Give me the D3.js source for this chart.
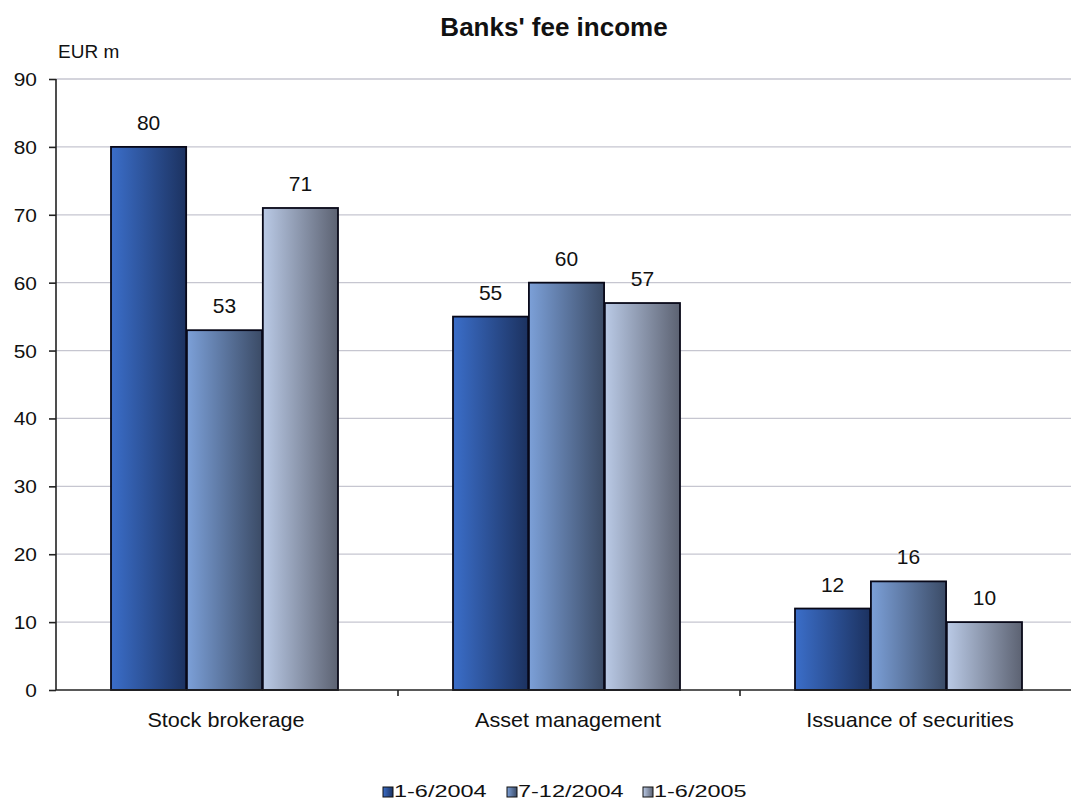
<!DOCTYPE html>
<html lang="en">
<head>
<meta charset="UTF-8">
<title>Banks' fee income</title>
<script src="https://d3js.org/d3.v7.min.js"></script>
<style>
  body { margin: 0; background: #fff; }
  text { font-family: "Liberation Sans", Arial, sans-serif; fill: #111; }
</style>
</head>
<body>
<script>
const categories = ["Stock brokerage", "Asset management", "Issuance of securities"];
const seriesNames = ["1-6/2004", "7-12/2004", "1-6/2005"];
const values = [
  [80, 55, 12],
  [53, 60, 16],
  [71, 57, 10]
];
const yTicks = [0, 10, 20, 30, 40, 50, 60, 70, 80, 90];
const gradStops = [
  ["#3b6ec9", "#1c3260"],
  ["#7ca0d8", "#3b4b66"],
  ["#bacae6", "#5c6272"]
];

const width = 1071, height = 800;
const left = 56, bandW = 342;
const svg = d3.select("body").append("svg").attr("width", width).attr("height", height);

const defs = svg.append("defs");
gradStops.forEach((s, i) => {
  const g = defs.append("linearGradient").attr("id", "g" + i).attr("x1", "0%").attr("x2", "100%").attr("y1", "0%").attr("y2", "0%");
  g.append("stop").attr("offset", "0%").attr("stop-color", s[0]);
  g.append("stop").attr("offset", "100%").attr("stop-color", s[1]);
});

// text helper with horizontal stretch
function label(parent, x, y, str, size, sx, anchor, weight) {
  return parent.append("text")
    .attr("transform", `translate(${x},${y}) scale(${sx},1)`)
    .attr("text-anchor", anchor || "start")
    .style("font-size", size + "px")
    .style("font-weight", weight || "normal")
    .text(str);
}

const y = d3.scaleLinear().domain([0, 90]).range([690, 79]);
const x = d3.scaleBand().domain(categories).range([left, left + bandW * 3]);
const x1 = d3.scaleBand().domain(seriesNames).range([55, 55 + 227]).paddingInner(0.01);

// gridlines
svg.append("g").selectAll("line").data(yTicks.slice(1)).enter().append("line")
  .attr("x1", left).attr("x2", width).attr("y1", d => y(d)).attr("y2", d => y(d))
  .attr("stroke", "#c6c6d0").attr("stroke-width", 1.3);

// bars
const rows = categories.map((c, ci) => seriesNames.map((s, si) => ({c, s, si, v: values[si][ci]})));
const groups = svg.append("g").selectAll("g").data(rows).enter().append("g")
  .attr("transform", d => `translate(${x(d[0].c)},0)`);
groups.selectAll("rect").data(d => d).enter().append("rect")
  .attr("x", d => x1(d.s)).attr("width", x1.bandwidth())
  .attr("y", d => y(d.v)).attr("height", d => y(0) - y(d.v))
  .attr("fill", d => `url(#g${d.si})`).attr("stroke", "#080818").attr("stroke-width", 1.8);
groups.each(function(d) {
  const g = d3.select(this);
  d.forEach(b => label(g, x1(b.s) + x1.bandwidth() / 2, y(b.v) - 17, b.v, 20, 1.05, "middle"));
});

// y axis
const yAxis = svg.append("g").attr("transform", `translate(${left},0)`)
  .call(d3.axisLeft(y).tickValues(yTicks).tickSize(7).tickFormat(""));
yAxis.select(".domain").attr("stroke", "#222").attr("stroke-width", 1.6).attr("d", `M0,${y(90)}V${y(0)}`);
yAxis.selectAll(".tick line").attr("stroke", "#222").attr("stroke-width", 1.6);
yTicks.forEach(t => label(svg, 37, y(t) + 7, t, 19, 1.1, "end"));

// x axis
svg.append("line").attr("x1", left).attr("x2", width).attr("y1", y(0)).attr("y2", y(0))
  .attr("stroke", "#222").attr("stroke-width", 1.6);
svg.append("g").selectAll("line").data(categories.slice(1)).enter().append("line")
  .attr("x1", d => x(d)).attr("x2", d => x(d)).attr("y1", y(0)).attr("y2", y(0) + 6)
  .attr("stroke", "#222").attr("stroke-width", 1.6);
categories.forEach(c => label(svg, x(c) + 170, 727, c, 20, 1.08, "middle"));

// title and unit
label(svg, 554, 36, "Banks' fee income", 26, 1.0, "middle", "bold");
label(svg, 58, 58, "EUR m", 19, 1.0, "start");

// legend
const legX = [383, 507, 643];
seriesNames.forEach((s, i) => {
  svg.append("rect").attr("x", legX[i]).attr("y", 787).attr("width", 10).attr("height", 10)
    .attr("fill", `url(#g${i})`).attr("stroke", "#111").attr("stroke-width", 1);
  label(svg, legX[i] + 11, 797, s, 17, 1.38, "start");
});
</script>
</body>
</html>
